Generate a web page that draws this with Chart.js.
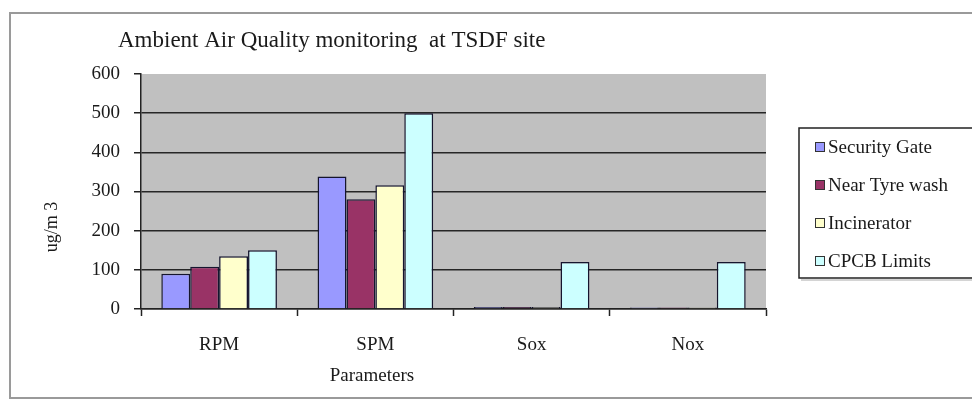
<!DOCTYPE html>
<html>
<head>
<meta charset="utf-8">
<script src="https://cdn.jsdelivr.net/npm/chart.js@4"></script>
<style>
  html, body { margin: 0; padding: 0; background: #fff; }
  canvas { display: block; }
</style>
</head>
<body>
<canvas id="chart" width="972" height="400"></canvas>
<script>
// Monitoring results per parameter (ug/m3)
const parameters   = ['RPM', 'SPM', 'Sox', 'Nox'];
const securityGate = [90, 338, 5, 4];
const nearTyreWash = [108, 280, 5, 4];
const incinerator  = [135, 316, 5, 4];
const cpcbLimits   = [150, 500, 120, 120];
const yTicks       = [0, 100, 200, 300, 400, 500, 600];

const seriesNames  = ['Security Gate', 'Near Tyre wash', 'Incinerator', 'CPCB Limits'];
const seriesValues = [securityGate, nearTyreWash, incinerator, cpcbLimits];
const seriesColors = ['#9999FF', '#993366', '#FFFFCC', '#CCFFFF'];

const chartTitle = 'Ambient Air Quality monitoring  at TSDF site';
const xTitle = 'Parameters';
const yTitle = 'ug/m 3';

const SERIF = '"Liberation Serif", "DejaVu Serif", serif';

// Frame, grey plot area, titles and the boxed legend
const decorations = {
  id: 'decorations',
  beforeDraw(chart) {
    const { ctx, chartArea: a } = chart;
    ctx.save();
    ctx.fillStyle = '#fff';
    ctx.fillRect(0, 0, chart.width, chart.height);
    // outer frame
    ctx.strokeStyle = '#9a9a9a';
    ctx.lineWidth = 2;
    ctx.strokeRect(10, 13, chart.width + 20, 385);
    // plot area
    ctx.fillStyle = '#C0C0C0';
    ctx.fillRect(a.left, a.top, a.right - a.left, a.bottom - a.top);
    ctx.restore();
  },
  afterDraw(chart) {
    const { ctx } = chart;
    ctx.save();
    ctx.fillStyle = '#1a1a1a';
    // chart title
    ctx.font = '23px ' + SERIF;
    ctx.textAlign = 'left';
    ctx.textBaseline = 'alphabetic';
    ctx.fillText(chartTitle, 118, 47);
    // x axis title
    ctx.font = '19px ' + SERIF;
    ctx.textAlign = 'center';
    ctx.textBaseline = 'middle';
    ctx.fillText(xTitle, 372, 376);
    // y axis title
    ctx.save();
    ctx.translate(52, 227);
    ctx.rotate(-Math.PI / 2);
    ctx.font = '18px ' + SERIF;
    ctx.fillText(yTitle, 0, 0);
    ctx.restore();

    // legend box
    const bx = 799, by = 128, bw = 200, bh = 150;
    ctx.fillStyle = '#fff';
    ctx.fillRect(bx, by, bw, bh);
    ctx.strokeStyle = '#222';
    ctx.lineWidth = 1.5;
    ctx.strokeRect(bx, by, bw, bh);
    ctx.strokeStyle = '#aaa';
    ctx.lineWidth = 1;
    ctx.beginPath();
    ctx.moveTo(bx + 2, by + bh + 2);
    ctx.lineTo(bx + bw, by + bh + 2);
    ctx.stroke();

    ctx.font = '19px ' + SERIF;
    ctx.textAlign = 'left';
    ctx.textBaseline = 'middle';
    chart.data.datasets.forEach((ds, i) => {
      const cy = 147 + i * 38;
      ctx.fillStyle = ds.backgroundColor;
      ctx.fillRect(815, cy - 5, 10, 10);
      ctx.strokeStyle = '#333';
      ctx.lineWidth = 1;
      ctx.strokeRect(815.5, cy - 4.5, 9, 9);
      ctx.fillStyle = '#1a1a1a';
      ctx.fillText(ds.label, 828, cy + 1);
    });
    ctx.restore();
  }
};

new Chart(document.getElementById('chart'), {
  type: 'bar',
  data: {
    labels: parameters,
    datasets: seriesNames.map((name, i) => ({
      label: name,
      data: seriesValues[i],
      backgroundColor: seriesColors[i],
      borderColor: '#15152e',
      borderWidth: 1.5,
      categoryPercentage: 0.74,
      barPercentage: 1.0
    }))
  },
  options: {
    responsive: false,
    animation: false,
    devicePixelRatio: 1,
    layout: { padding: { left: 10, right: 206, top: 74, bottom: 0 } },
    plugins: {
      legend: { display: false },
      title: { display: false },
      tooltip: { enabled: false }
    },
    scales: {
      x: {
        grid: {
          offset: true,
          drawOnChartArea: false,
          drawTicks: true,
          tickLength: 7,
          tickColor: '#222',
          tickWidth: 1.5
        },
        border: { display: true, color: '#222', width: 1.5 },
        ticks: {
          padding: 18,
          color: '#1a1a1a',
          font: { family: SERIF, size: 19 }
        },
        afterFit: s => { s.height = 91; }
      },
      y: {
        min: 0,
        max: 600,
        afterBuildTicks: s => { s.ticks = yTicks.map(v => ({ value: v })); },
        grid: {
          color: c => (c.tick && c.tick.value === 600 ? 'rgba(0,0,0,0)' : '#262626'),
          lineWidth: 1.5,
          drawTicks: true,
          tickLength: 7,
          tickColor: '#222',
          tickWidth: 1.5
        },
        border: { display: true, color: '#222', width: 1.5 },
        ticks: {
          padding: 14,
          color: '#1a1a1a',
          font: { family: SERIF, size: 19 }
        },
        afterFit: s => { s.width = 131; }
      }
    }
  },
  plugins: [decorations]
});
</script>
</body>
</html>
